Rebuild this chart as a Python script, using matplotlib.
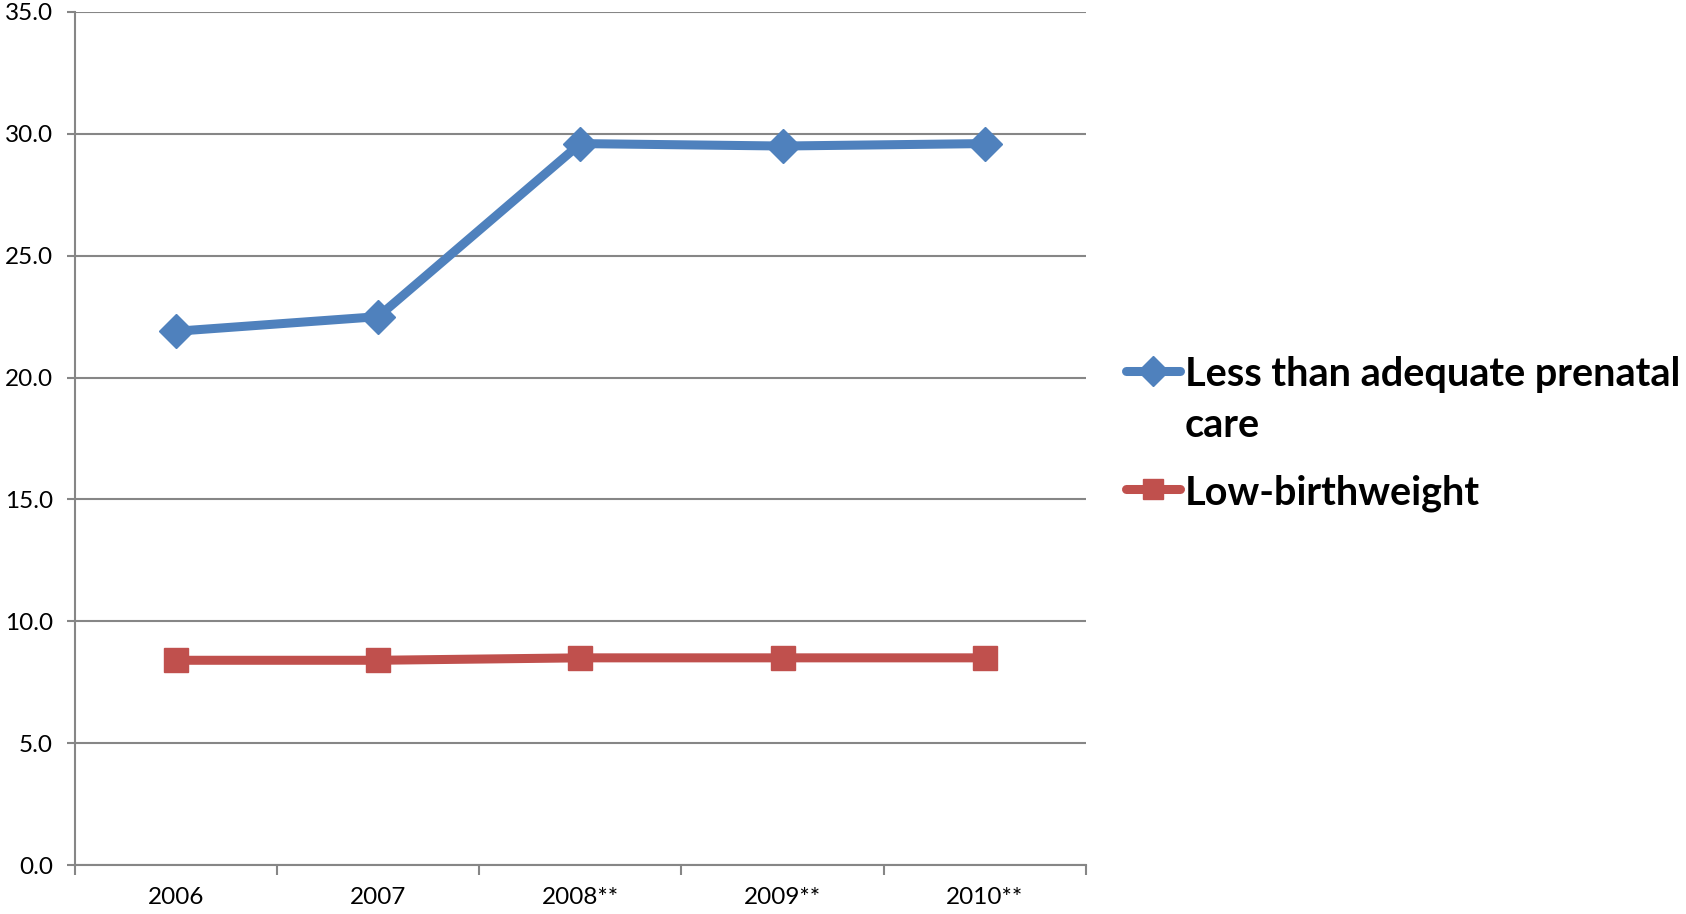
import matplotlib
matplotlib.use('Agg')
from matplotlib import pyplot as plt
from matplotlib.lines import Line2D

years = ['2006', '2007', '2008**', '2009**', '2010**']
prenatal = [21.9, 22.5, 29.6, 29.5, 29.6]
lowbw = [8.4, 8.4, 8.5, 8.5, 8.5]
labels = [['Less than adequate prenatal', 'care'], ['Low-birthweight']]

plt.rcParams['font.family'] = ['Lato', 'DejaVu Sans']
grid_col = '#868686'
blue = '#4F81BD'
red = '#C0504D'

fig = plt.figure(figsize=(16.86, 9.14), dpi=100)
ax = fig.add_axes([0.0445, 0.0536, 0.5995, 0.9333])

x = list(range(len(years)))
ax.plot(x, prenatal, color=blue, lw=6.5, marker='D', ms=17, solid_capstyle='round')
ax.plot(x, lowbw, color=red, lw=6.5, marker='s', ms=17, solid_capstyle='round')

ax.set_xlim(-0.5, len(years) - 0.5)
ax.set_ylim(0, 35)
ax.set_yticks([i * 5 for i in range(8)])
ax.set_yticklabels(['%.1f' % (i * 5) for i in range(8)], fontsize=17.5)
ax.set_xticks(x)
ax.set_xticklabels(years, fontsize=17.5)
ax.set_xticks([i - 0.5 for i in range(len(years) + 1)], minor=True)
ax.tick_params(axis='x', which='major', length=0, pad=16)
ax.tick_params(axis='x', which='minor', length=7, width=1.5, color=grid_col, direction='out')
ax.tick_params(axis='y', length=6, width=1.5, color=grid_col, pad=10)

ax.grid(axis='y', color=grid_col, lw=1.5)
ax.set_axisbelow(True)
for s in ['top', 'right']:
    ax.spines[s].set_visible(False)
for s in ['left', 'bottom']:
    ax.spines[s].set_color(grid_col)
    ax.spines[s].set_linewidth(1.5)

# legend drawn by hand so the marker sits on the first text line
W, H = 1686, 914
rows = [(371, blue, 'D'), (489, red, 's')]
for (py, col, mk), lab in zip(rows, labels):
    yf = 1 - py / H
    fig.add_artist(Line2D([1126 / W, 1180 / W], [yf, yf], transform=fig.transFigure,
                          color=col, lw=6.5, solid_capstyle='round'))
    fig.add_artist(Line2D([1153 / W], [yf], transform=fig.transFigure,
                          color=col, marker=mk, ms=15, lw=0))
    for k, line in enumerate(lab):
        fig.text(1185 / W, 1 - (py + 51 * k) / H, line, fontsize=28.5, fontweight='bold',
                 va='center_baseline', ha='left')

fig.savefig('out.png', dpi=100)
